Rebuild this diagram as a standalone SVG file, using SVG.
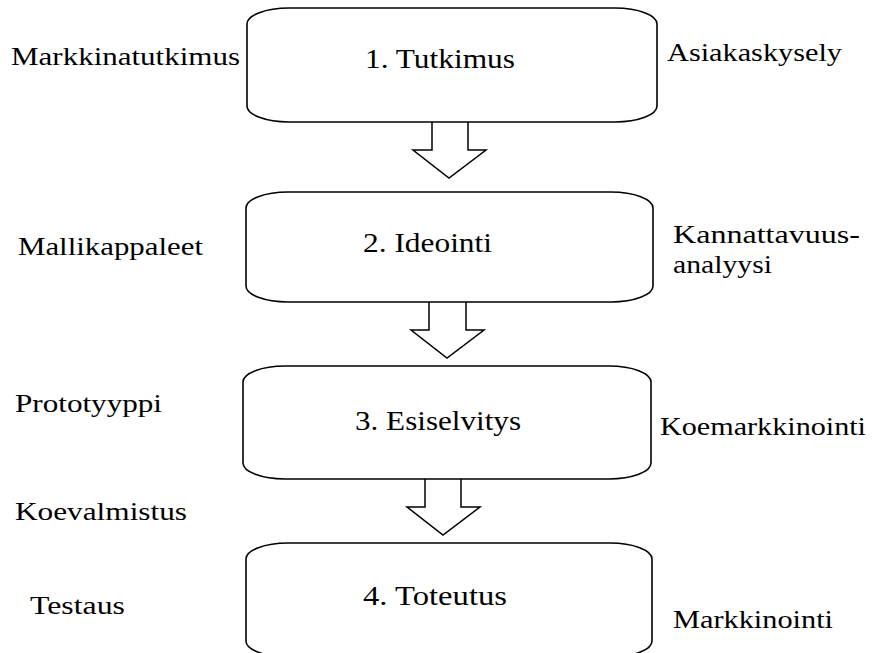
<svg xmlns="http://www.w3.org/2000/svg" width="878" height="653" viewBox="0 0 878 653">
<style>
.box{fill:#fff;stroke:#000;stroke-width:1.6}
.arr{fill:#fff;stroke:#000;stroke-width:1.5;stroke-linejoin:miter}
.t{font-family:'Liberation Serif','Times New Roman',serif;font-size:26px;fill:#000}
.main{font-size:27px}
</style>
<rect width="878" height="653" fill="#fff"/>
<g id="connectors">
<path class="arr" d="M432,122 V150 H413 L449,178 L486,150 H468 V122"/>
<path class="arr" d="M429,302 V330 H411 L447,358 L484,330 H466 V302"/>
<path class="arr" d="M425,479 V507 H407 L443,535 L480,507 H461 V479"/>
</g>
<g id="node1">
<rect class="box" x="247" y="8" width="410" height="114" rx="42" ry="16"/>
<text class="t main" x="365" y="68" textLength="150" lengthAdjust="spacingAndGlyphs">1. Tutkimus</text>
</g>
<g id="node2">
<rect class="box" x="246" y="192" width="407" height="110" rx="42" ry="16"/>
<text class="t main" x="363" y="252" textLength="129" lengthAdjust="spacingAndGlyphs">2. Ideointi</text>
</g>
<g id="node3">
<rect class="box" x="243" y="366" width="408" height="113" rx="42" ry="16"/>
<text class="t main" x="355" y="430" textLength="166" lengthAdjust="spacingAndGlyphs">3. Esiselvitys</text>
</g>
<g id="node4">
<rect class="box" x="246" y="543" width="406" height="114" rx="42" ry="16"/>
<text class="t main" x="363" y="605" textLength="144" lengthAdjust="spacingAndGlyphs">4. Toteutus</text>
</g>
<g id="labels">
<text class="t" x="11" y="65" textLength="229" lengthAdjust="spacingAndGlyphs">Markkinatutkimus</text>
<text class="t" x="18" y="255" textLength="185" lengthAdjust="spacingAndGlyphs">Mallikappaleet</text>
<text class="t" x="15" y="412" textLength="147" lengthAdjust="spacingAndGlyphs">Prototyyppi</text>
<text class="t" x="15" y="520" textLength="172" lengthAdjust="spacingAndGlyphs">Koevalmistus</text>
<text class="t" x="30" y="614" textLength="95" lengthAdjust="spacingAndGlyphs">Testaus</text>
<text class="t" x="667" y="61" textLength="175" lengthAdjust="spacingAndGlyphs">Asiakaskysely</text>
<text class="t" x="673" y="243" textLength="187" lengthAdjust="spacingAndGlyphs">Kannattavuus-</text>
<text class="t" x="673" y="273" textLength="99" lengthAdjust="spacingAndGlyphs">analyysi</text>
<text class="t" x="660" y="435" textLength="206" lengthAdjust="spacingAndGlyphs">Koemarkkinointi</text>
<text class="t" x="673" y="628" textLength="160" lengthAdjust="spacingAndGlyphs">Markkinointi</text>
</g>
</svg>
